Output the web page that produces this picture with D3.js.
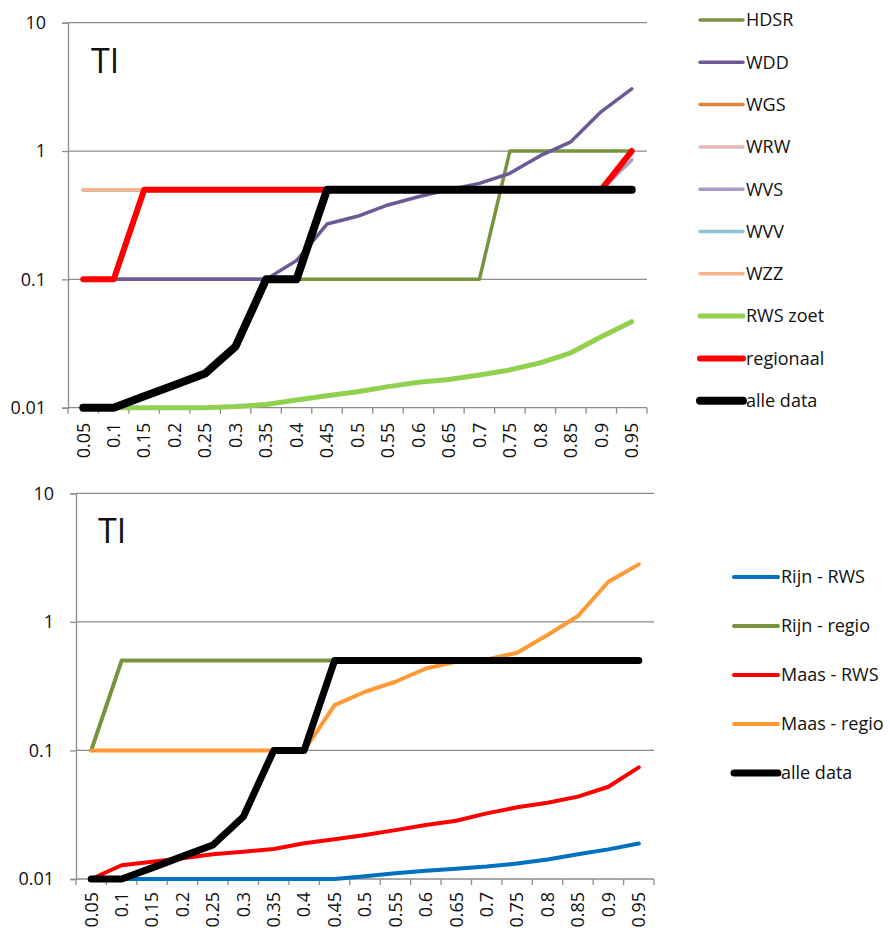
<!DOCTYPE html>
<html>
<head>
<meta charset="utf-8">
<script src="https://cdn.jsdelivr.net/npm/d3@7"></script>
<style>
  html, body { margin: 0; padding: 0; background: #fff; }
  svg text { font-family: "Open Sans", "DejaVu Sans", sans-serif; fill: #111; }
</style>
</head>
<body>
<svg id="chart" width="890" height="928"></svg>
<script>
// Percentile categories along the x axis
const categories = ["0.05","0.1","0.15","0.2","0.25","0.3","0.35","0.4","0.45","0.5",
                    "0.55","0.6","0.65","0.7","0.75","0.8","0.85","0.9","0.95"];
const yTicks = [0.01, 0.1, 1, 10];

// Upper panel: per water board
const hdsr     = [0.1,0.1,0.1,0.1,0.1,0.1,0.1,0.1,0.1,0.1,0.1,0.1,0.1,0.1,1,1,1,1,1];
const wdd      = [0.1,0.1,0.1,0.1,0.1,0.1,0.1,0.14,0.27,0.31,0.38,0.44,0.5,0.56,0.67,0.92,1.18,2.03,3.05];
const wgs      = [0.5,0.5,0.5,0.5,0.5,0.5,0.5,0.5,0.5,0.5,0.5,0.5,0.5,0.5,0.5,0.5,0.5,0.5,0.5];
const wrw      = [0.5,0.5,0.5,0.5,0.5,0.5,0.5,0.5,0.5,0.5,0.5,0.5,0.5,0.5,0.5,0.5,0.5,0.5,0.5];
const wvs      = [0.5,0.5,0.5,0.5,0.5,0.5,0.5,0.5,0.5,0.5,0.5,0.5,0.5,0.5,0.5,0.5,0.5,0.5,0.85];
const wvv      = [0.5,0.5,0.5,0.5,0.5,0.5,0.5,0.5,0.5,0.5,0.5,0.5,0.5,0.5,0.5,0.5,0.5,0.5,0.5];
const wzz      = [0.5,0.5,0.5,0.5,0.5,0.5,0.5,0.5,0.5,0.5,0.5,0.5,0.5,0.5,0.5,0.5,0.5,0.5,0.5];
const rwsZoet  = [0.01,0.01,0.01,0.01,0.01,0.0102,0.0106,0.0115,0.0124,0.0133,0.0146,0.0158,0.0166,0.018,0.0197,0.0224,0.0268,0.0357,0.0468];
const regionaal= [0.1,0.1,0.5,0.5,0.5,0.5,0.5,0.5,0.5,0.5,0.5,0.5,0.5,0.5,0.5,0.5,0.5,0.5,1];
const alleData = [0.01,0.01,0.0123,0.015,0.0185,0.03,0.1,0.1,0.5,0.5,0.5,0.5,0.5,0.5,0.5,0.5,0.5,0.5,0.5];

// Lower panel: per river basin
const rijnRws   = [0.01,0.01,0.01,0.01,0.01,0.01,0.01,0.01,0.01,0.0105,0.0111,0.0116,0.012,0.0125,0.0132,0.0142,0.0156,0.017,0.0189];
const rijnRegio = [0.1,0.5,0.5,0.5,0.5,0.5,0.5,0.5,0.5,0.5,0.5,0.5,0.5,0.5,0.5,0.5,0.5,0.5,0.5];
const maasRws   = [0.01,0.0128,0.0136,0.0145,0.0156,0.0163,0.0171,0.019,0.0204,0.022,0.024,0.0263,0.0284,0.0324,0.0361,0.0392,0.0437,0.0522,0.0739];
const maasRegio = [0.1,0.1,0.1,0.1,0.1,0.1,0.1,0.1,0.225,0.286,0.342,0.434,0.49,0.51,0.575,0.79,1.11,2.05,2.8];
const alleData2 = [0.01,0.01,0.0122,0.015,0.0184,0.0305,0.1,0.1,0.5,0.5,0.5,0.5,0.5,0.5,0.5,0.5,0.5,0.5,0.5];

const topSeries = [
  { name: "HDSR",      values: hdsr,      color: "#77933c", width: 3.5 },
  { name: "WDD",       values: wdd,       color: "#6d5997", width: 3.5 },
  { name: "WGS",       values: wgs,       color: "#e0843c", width: 3.5 },
  { name: "WRW",       values: wrw,       color: "#e3b9b7", width: 3.5 },
  { name: "WVS",       values: wvs,       color: "#aa9cc8", width: 3.5 },
  { name: "WVV",       values: wvv,       color: "#8dc3d8", width: 3.5 },
  { name: "WZZ",       values: wzz,       color: "#f5b38e", width: 3.5 },
  { name: "RWS zoet",  values: rwsZoet,   color: "#92d050", width: 5 },
  { name: "regionaal", values: regionaal, color: "#ff0000", width: 6 },
  { name: "alle data", values: alleData,  color: "#000000", width: 8 }
];

const bottomSeries = [
  { name: "Rijn - RWS",   values: rijnRws,   color: "#0070c0", width: 4 },
  { name: "Rijn - regio", values: rijnRegio, color: "#77933c", width: 4 },
  { name: "Maas - RWS",   values: maasRws,   color: "#ff0000", width: 4 },
  { name: "Maas - regio", values: maasRegio, color: "#ff9933", width: 4 },
  { name: "alle data",    values: alleData2, color: "#000000", width: 7 }
];

const svg = d3.select("#chart");
const fmt = d => String(d);

function drawPanel(cfg) {
  const g = svg.append("g");
  const x = d3.scaleBand().domain(categories).range([cfg.left, cfg.right]);
  const y = d3.scaleLog().domain([0.01, 10]).range([cfg.bottom, cfg.top]);

  // horizontal gridlines
  g.append("g").selectAll("line").data(yTicks.slice(1)).join("line")
    .attr("x1", cfg.left).attr("x2", cfg.right)
    .attr("y1", d => y(d)).attr("y2", d => y(d))
    .attr("stroke", "#8c8c8c").attr("stroke-width", 1.3);

  // y axis
  const ya = g.append("g").attr("transform", `translate(${cfg.left},0)`)
    .call(d3.axisLeft(y).tickValues(yTicks).tickFormat(fmt).tickSize(6).tickPadding(cfg.yPad));
  ya.select(".domain").attr("stroke", "#8c8c8c").attr("stroke-width", 1.3);
  ya.selectAll(".tick line").attr("stroke", "#8c8c8c").attr("stroke-width", 1.3);
  ya.selectAll(".tick text").attr("font-size", 18).attr("font-family", "Open Sans").attr("fill", "#111");

  // x axis line and boundary ticks
  g.append("line").attr("x1", cfg.left).attr("x2", cfg.right)
    .attr("y1", cfg.bottom).attr("y2", cfg.bottom)
    .attr("stroke", "#8c8c8c").attr("stroke-width", 1.3);
  const bounds = categories.map(c => x(c)).concat([x(categories[categories.length - 1]) + x.bandwidth()]);
  g.append("g").selectAll("line").data(bounds).join("line")
    .attr("x1", d => d).attr("x2", d => d)
    .attr("y1", cfg.bottom).attr("y2", cfg.bottom + 6)
    .attr("stroke", "#8c8c8c").attr("stroke-width", 1.3);

  // rotated category labels
  g.append("g").selectAll("text").data(categories).join("text")
    .attr("transform", d => `translate(${x(d) + x.bandwidth() / 2},${cfg.bottom + cfg.xPad}) rotate(-90)`)
    .attr("text-anchor", "end").attr("dy", "0.35em")
    .attr("font-size", 18).text(d => d);

  // panel title
  g.append("text").attr("x", cfg.titleX).attr("y", cfg.titleY)
    .attr("font-size", 34).text("TI");

  // series lines
  const line = d3.line()
    .x((d, i) => x(categories[i]) + x.bandwidth() / 2)
    .y(d => y(d));
  g.append("g").selectAll("path").data(cfg.series).join("path")
    .attr("d", s => line(s.values))
    .attr("fill", "none")
    .attr("stroke", s => s.color)
    .attr("stroke-width", s => s.width)
    .attr("stroke-linejoin", "round")
    .attr("stroke-linecap", "round");

  // legend
  const lg = g.append("g").selectAll("g").data(cfg.series).join("g")
    .attr("transform", (s, i) => `translate(${cfg.legX},${cfg.legY + i * cfg.legStep})`);
  lg.append("line").attr("x1", 0).attr("x2", cfg.legLen)
    .attr("stroke", s => s.color).attr("stroke-width", s => s.width)
    .attr("stroke-linecap", "round");
  lg.append("text").attr("x", cfg.legLen + 3).attr("dy", "0.35em")
    .attr("font-size", 18).text(s => s.name);
}

drawPanel({
  left: 68, right: 647, top: 22.7, bottom: 407.7,
  yPad: 16, xPad: 15, titleX: 91, titleY: 73,
  series: topSeries, legX: 700, legY: 20, legStep: 42.3, legLen: 43
});

drawPanel({
  left: 76, right: 654, top: 493.3, bottom: 879,
  yPad: 16, xPad: 13, titleX: 98, titleY: 543,
  series: bottomSeries, legX: 734, legY: 577, legStep: 49, legLen: 44
});
</script>
</body>
</html>
